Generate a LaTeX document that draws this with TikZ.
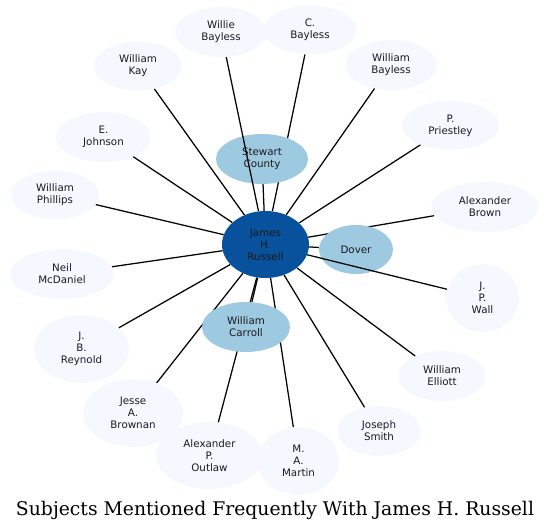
\documentclass[tikz,border=0pt]{standalone}
\usepackage{fontspec}
\setmainfont{DejaVu Serif}
\newfontfamily\nodefont{DejaVu Sans}
\usetikzlibrary{shapes.geometric}
\definecolor{outerfill}{HTML}{F5F9FF}
\definecolor{midfill}{HTML}{9ECAE1}
\definecolor{corefill}{HTML}{08519C}
\definecolor{txt}{HTML}{1A1A1A}
\tikzset{
  ent/.style={ellipse, inner sep=0pt, align=center, text=txt,
    font=\nodefont\fontsize{10.3}{12}\selectfont},
  sz/.style 2 args={minimum width=#1pt, minimum height=#2pt},
  outer/.style={ent, fill=outerfill},
  mid/.style={ent, fill=midfill},
  core/.style={ent, fill=corefill},
  ghost/.style={ent},
  link/.style={draw=black, line width=1.25pt},
}
\begin{document}
\begin{tikzpicture}[x=1pt, y=-1pt]
\useasboundingbox (0,0) rectangle (551,530);
% outer nodes
\node[outer, sz={92}{50}] (willie) at (221,32) {Willie\\Bayless};
\node[outer, sz={93}{49}] (cbay) at (310,30) {C.\\Bayless};
\node[outer, sz={88}{49}] (kay) at (138,66) {William\\Kay};
\node[outer, sz={91}{50}] (wbay) at (391,65) {William\\Bayless};
\node[outer, sz={95}{50}] (john) at (103.5,137) {E.\\Johnson};
\node[outer, sz={97}{49}] (pries) at (450.5,125.5) {P.\\Priestley};
\node[outer, sz={88}{49}] (phil) at (55,195) {William\\Phillips};
\node[outer, sz={108}{50}] (brown) at (485,207) {Alexander\\Brown};
\node[outer, sz={104}{50}] (neil) at (62,274) {Neil\\McDaniel};
\node[outer, sz={73}{68}] (wall) at (482.5,298) {J.\\P.\\Wall};
\node[outer, sz={95}{68}] (reyn) at (81.5,349) {J.\\B.\\Reynold};
\node[outer, sz={88}{50}] (elliott) at (442,376) {William\\Elliott};
\node[outer, sz={100}{68}] (jesse) at (133,413) {Jesse\\A.\\Brownan};
\node[outer, sz={84}{50}] (smith) at (379,431) {Joseph\\Smith};
\node[outer, sz={107}{67}] (outlaw) at (209.5,455.5) {Alexander\\P.\\Outlaw};
\node[outer, sz={81}{68}] (martin) at (298.5,461) {M.\\A.\\Martin};
% unfilled outlines used to clip the connectors
\node[ghost, sz={87}{67}] (russ) at (265.5,244.5) {};
\node[ghost, sz={88}{50}] (carroll) at (246,327) {};
% edges drawn under the mid nodes
\foreach \t in {cbay,kay,wbay,john,pries,phil,brown,neil,reyn,elliott,jesse,smith,outlaw,martin,carroll}
  \draw[link] (russ) -- (\t);
% mid nodes
\node[mid, sz={92}{50}] (stew) at (262,159) {Stewart\\County};
\node[mid, sz={74}{49}] (dover) at (356,249.5) {Dover};
\draw[link] (russ) -- (stew);
\draw[link] (russ) -- (dover);
\draw[link] (russ) -- (willie);
\draw[link] (russ) -- (wall);
\node[mid, sz={88}{50}] (carrollfill) at (246,327) {William\\Carroll};
% center node on top
\node[core, sz={87}{67}] (russtop) at (265.5,244.5) {James\\H.\\Russell};
% title
\node[font=\fontsize{18.8}{22}\selectfont, anchor=base, text=black, inner sep=0pt] (title) at (275,515) {Subjects Mentioned Frequently With James H. Russell};
\end{tikzpicture}
\end{document}
